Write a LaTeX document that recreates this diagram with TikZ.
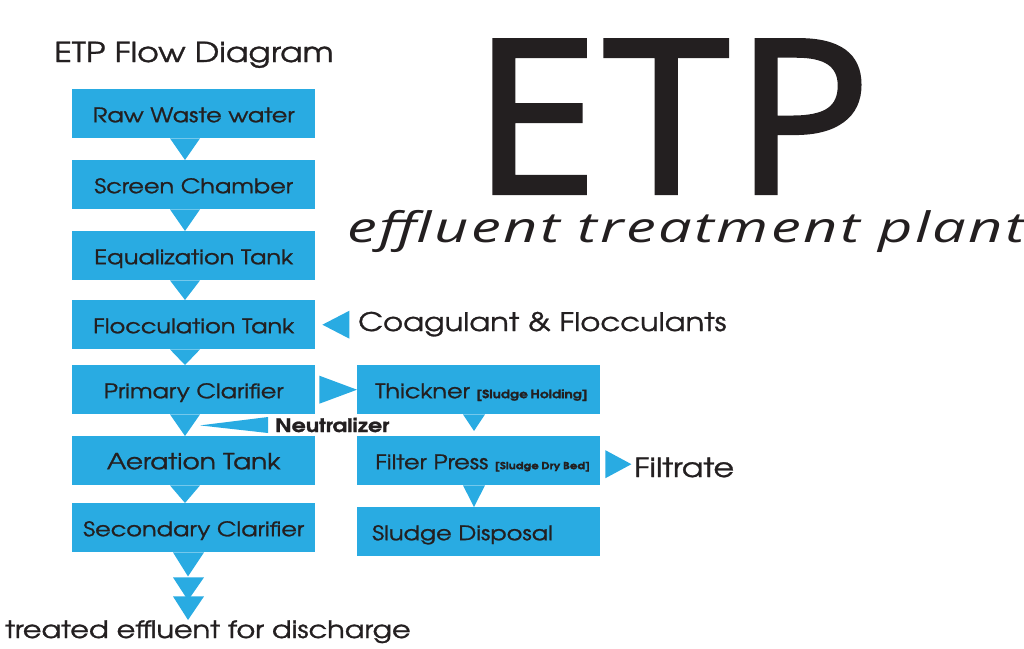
\documentclass[tikz,border=0pt]{standalone}
\usepackage{fontspec}
\setmainfont{TeX Gyre Adventor}[FakeStretch=1.2, FakeBold=1.2]
\newfontfamily\osans{Open Sans}[FakeStretch=1.06, LetterSpace=2.5, FakeBold=2]
\newfontfamily\osanssub{Open Sans}[FakeStretch=1.42, LetterSpace=6]
\usetikzlibrary{calc}
\definecolor{boxblue}{HTML}{29ABE2}
\definecolor{ink}{HTML}{231F20}
\newcommand\dnarrow[2]{\fill[arr] ($(#1.south west)+(98,0)$) -- ($(#1.south west)+(128,0)$) -- ($(#2.north west)+(113,0)$) -- cycle;}
\newcommand\brk[2]{{\fontsize{#1}{#1}\bfseries\spaceskip=2.6pt #2}}
\newcommand\lbox[1]{\makebox[207pt][l]{#1}}
\begin{document}
\begin{tikzpicture}[x=1pt,y=-1pt,
  box/.style={fill=boxblue, minimum width=243pt, minimum height=49pt, inner xsep=0pt, inner ysep=0pt,
    text height=17pt, text depth=0pt, text=ink, font=\fontsize{20}{20}\selectfont, anchor=north west},
  rbox/.style={box, inner xsep=18pt},
  arr/.style={fill=boxblue},
  lbl/.style={text=ink, inner sep=0pt, anchor=base west}]
\useasboundingbox (0,0) rectangle (1024,648);
% big title
\node[lbl, font=\osans\fontsize{214}{214}\selectfont] (etp) at (472,193) {ETP};
\node[lbl, font=\osanssub\itshape\fontsize{42}{42}\selectfont] (sub) at (347,242) {effluent treatment plant};
\node[lbl, font=\fontsize{27.5}{27.5}\selectfont] (title) at (54,62) {ETP Flow Diagram};
% main column
\node[box] (raw) at (72,89) {Raw Waste water};
\node[box] (screen) at (72,160) {Screen Chamber};
\node[box] (equal) at (72,231) {Equalization Tank};
\node[box] (floc) at (72,300) {Flocculation Tank};
\node[box] (prim) at (72,365) {Primary Clarifier\hspace{10pt}};
\node[box, font=\fontsize{22}{22}\selectfont] (aer) at (72,436) {Aeration Tank};
\node[box] (sec) at (72,503) {Secondary Clarifier\hspace{6pt}};
% sludge column
\node[rbox] (thick) at (357,365) {\lbox{Thickner \brk{11.5}{[Sludge Holding]}}};
\node[rbox] (filter) at (357,436) {\lbox{Filter Press \brk{9.8}{[Sludge Dry Bed]}}};
\node[rbox] (sludge) at (357,507) {\lbox{\hspace{-3pt}Sludge Disposal}};
% side labels
\node[lbl, font=\fontsize{25.5}{25.5}\selectfont] (coag) at (358,331) {Coagulant \& Flocculants};
\node[lbl, font=\bfseries\fontsize{18.5}{18.5}\selectfont] (neut) at (275,432) {Neutralizer};
\node[lbl, font=\fontsize{26.5}{26.5}\selectfont] (filt) at (634,477) {Filtrate};
\node[lbl, font=\fontsize{24}{24}\selectfont] (treated) at (5,638) {treated effluent for discharge};
\coordinate (out) at (188,620);
% connectors
\dnarrow{raw}{screen}
\dnarrow{screen}{equal}
\dnarrow{equal}{floc}
\dnarrow{floc}{prim}
\dnarrow{prim}{aer}
\dnarrow{aer}{sec}
\fill[arr] ($(sec.south west)+(101,0)$) -- ($(sec.south west)+(132,0)$) -- ($(sec.south west)+(116,24)$) -- cycle;
\fill[arr] ($(sec.south west)+(101,25)$) -- ($(sec.south west)+(132,25)$) -- ($(sec.south west)+(116,48)$) -- cycle;
\fill[arr] ($(sec.south west)+(101,44)$) -- ($(sec.south west)+(132,44)$) -- (out) -- cycle;
\fill[arr] ($(thick.south west)+(106,0)$) -- ($(thick.south west)+(128,0)$) -- ($(filter.north west)+(117,-5)$) -- cycle;
\fill[arr] ($(filter.south west)+(106,0)$) -- ($(filter.south west)+(128,0)$) -- ($(sludge.north west)+(117,0)$) -- cycle;
\fill[arr] ($(prim.east)+(4,-14)$) -- ($(prim.east)+(4,14)$) -- (thick.west) -- cycle;
\fill[arr] ($(floc.east)+(34,-14)$) -- ($(floc.east)+(34,14)$) -- ($(floc.east)+(7,0)$) -- cycle;
\fill[arr] ($(filter.east)+(5,-10.5)$) -- ($(filter.east)+(5,17.5)$) -- ($(filter.east)+(31,3.5)$) -- cycle;
\fill[arr] ($(prim.south west)+(128,11)$) -- ($(neut.base west)+(-7,-15)$) -- ($(neut.base west)+(-7,1)$) -- cycle;
\end{tikzpicture}
\end{document}
